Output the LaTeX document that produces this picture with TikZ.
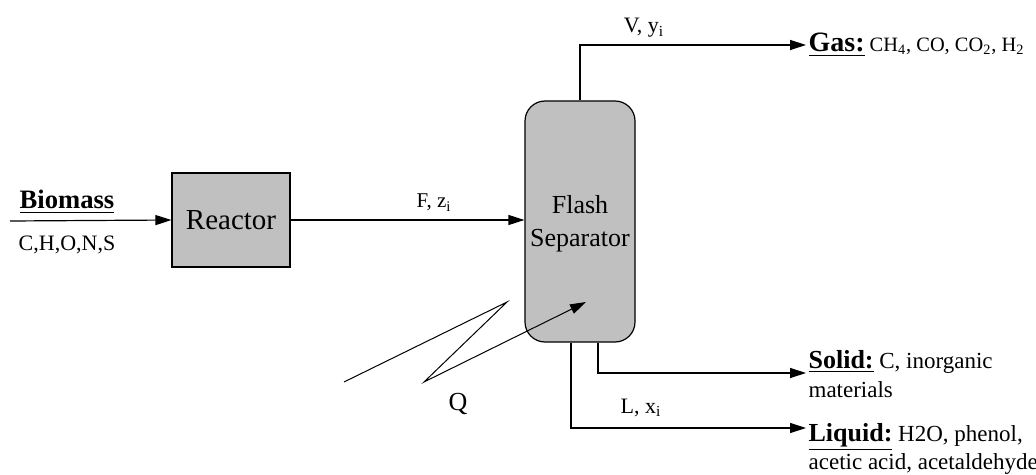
\documentclass[tikz,border=0pt]{standalone}
\usepackage{fontspec}
\setmainfont{Liberation Serif}
\usetikzlibrary{arrows.meta}
\usetikzlibrary{positioning}
\definecolor{vesselgray}{RGB}{192,192,192}
\newcommand{\fsz}[2]{\fontsize{#1}{#2}\selectfont}
\tikzset{
  vessel/.style={draw, fill=vesselgray},
  lbl/.style={inner sep=0pt, anchor=base},
  product/.style={inner sep=0pt, anchor=base west, font=\fsz{11.5pt}{13pt}},
}

\begin{document}
\begin{tikzpicture}[x=0.5pt, y=-0.5pt, line width=0.6pt, >={Triangle[length=8pt,width=5pt]}]
\useasboundingbox (0,0) rectangle (1036,475);
% units
\node[vessel, minimum width=59pt, minimum height=47pt, font=\fsz{14.5pt}{17pt}] (reactor) at (231,220) {Reactor};
\node[vessel, rounded corners=10pt, minimum width=55pt, minimum height=120.5pt] (flash) at (580,221.5) {};
\node[align=center, font=\fsz{13pt}{16.5pt}] (flashname) at (580,224) {Flash\\Separator};

% feed
\coordinate (feed) at (10,221);
\node[lbl, font=\fsz{13.3pt}{16pt}\bfseries] (biomass) at (67,209) {\underline{Biomass}};
\node[lbl, font=\fsz{11pt}{12pt}] (biomasscomp) at (67,250) {C,H,O,N,S};
\draw[->] (feed) -- (reactor.west);
\draw[->] (reactor.east) -- (reactor.east -| flash.west);
\node[lbl, font=\fsz{10.5pt}{12pt}] (fz) at (434,208) {F, z\textsubscript{i}};

% products
\node[product, font=\fsz{10.2pt}{12pt}] (gas) at (808,52) {{\fsz{14pt}{16pt}\bfseries\underline{Gas:}} CH\textsubscript{4}, CO, CO\textsubscript{2}, H\textsubscript{2}};
\coordinate (gasin) at (806,45);
\draw[->] (flash.north) |- (gasin);
\node[lbl, font=\fsz{11pt}{13pt}] (vy) at (644,33) {V, y\textsubscript{i}};

\node[product] (solid) at (808,368) {{\fsz{13pt}{15pt}\bfseries\underline{Solid:}} C, inorganic};
\node[product] (solidmore) at ([yshift=-14.5pt]solid.base west) {materials};
\coordinate (solidin) at (806,373);
\draw[->] ([xshift=9pt]flash.south) |- (solidin);

\node[product] (liquid) at (808,441) {{\fsz{13pt}{15pt}\bfseries\underline{Liquid:}} H2O, phenol,};
\node[product] (liquidmore) at ([yshift=-14pt]liquid.base west) {acetic acid, acetaldehyde};
\coordinate (liquidin) at (806,428);
\draw[->] ([xshift=-4.5pt]flash.south) |- (liquidin);
\node[lbl, font=\fsz{11pt}{13pt}] (lx) at (641,413) {L, x\textsubscript{i}};

% heat
\coordinate (q1) at (344,382);
\coordinate (q2) at (507,302);
\coordinate (q3) at (424,382);
\coordinate (q4) at (586,302);
\draw[->, line width=0.5pt] (q1) -- (q2) -- (q3) -- (q4);
\node[lbl, font=\fsz{13pt}{15pt}] (heat) at (458,410) {Q};
\end{tikzpicture}
\end{document}
